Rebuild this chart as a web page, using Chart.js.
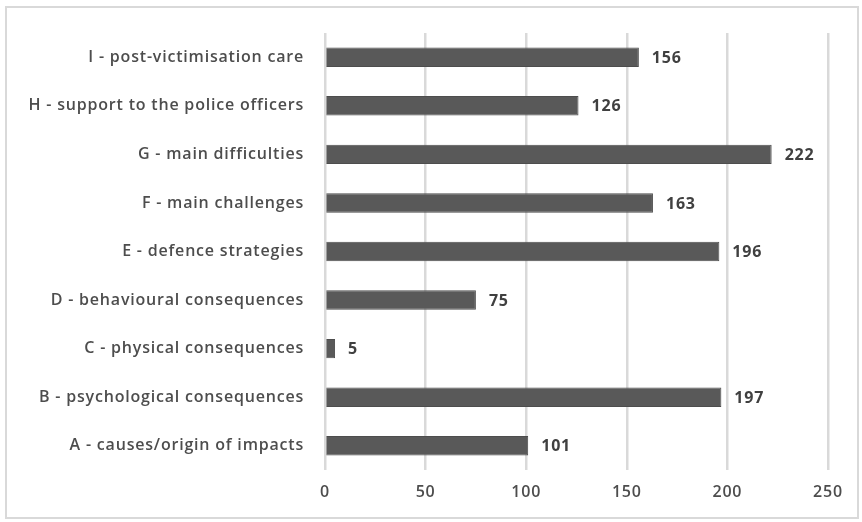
<!DOCTYPE html>
<html>
<head>
    <title>Coded segments by category</title>
    <script src="https://cdn.jsdelivr.net/npm/chart.js"></script>
    <style>
        body {
            margin: 0;
            background-color: #fff;
            font-family: "Open Sans", sans-serif;
        }
        #frame {
            position: absolute;
            left: 5px;
            top: 6px;
            width: 850px;
            height: 509px;
            border: 2px solid #d9d9d9; /* light grey box round the chart */
        }
        #wrap {
            position: absolute;
            left: 0;
            top: 0;
            width: 862px;
            height: 522px;
        }
    </style>
</head>
<body>
    <div id="frame"></div>
    <div id="wrap"><canvas id="plot"></canvas></div>

    <script>
        const categories = [
            'I - post-victimisation care',
            'H - support to the police officers',
            'G - main difficulties',
            'F - main challenges',
            'E - defence strategies',
            'D - behavioural consequences',
            'C - physical consequences',
            'B - psychological consequences',
            'A - causes/origin of impacts'
        ];
        const counts = [156, 126, 222, 163, 196, 75, 5, 197, 101];
        const xTicks = [0, 50, 100, 150, 200, 250];

        // slightly looser text all over the chart
        const spacing = {
            id: 'spacing',
            beforeDraw(chart) {
                chart.ctx.letterSpacing = '0.8px';
            }
        };

        // writes the count just past the end of each bar
        const valueLabels = {
            id: 'valueLabels',
            afterDatasetsDraw(chart) {
                const ctx = chart.ctx;
                const meta = chart.getDatasetMeta(0);
                ctx.save();
                ctx.letterSpacing = '0.8px';
                ctx.font = 'bold 16px "Open Sans", sans-serif';
                ctx.fillStyle = '#404040';
                ctx.textAlign = 'left';
                ctx.textBaseline = 'middle';
                meta.data.forEach((bar, i) => {
                    ctx.fillText(counts[i], bar.x + 13, bar.y + 1);
                });
                ctx.restore();
            }
        };

        const ctx = document.getElementById('plot').getContext('2d');
        new Chart(ctx, {
            type: 'bar',
            data: {
                labels: categories,
                datasets: [{
                    data: counts,
                    backgroundColor: '#595959',
                    borderColor: '#4d4d4d',
                    borderWidth: 1,
                    barPercentage: 0.5,
                    categoryPercentage: 0.8
                }]
            },
            options: {
                indexAxis: 'y',
                responsive: true,
                maintainAspectRatio: false,
                animation: false,
                layout: {
                    padding: { top: 33, right: 34, left: 10, bottom: 0 }
                },
                scales: {
                    x: {
                        min: 0,
                        max: 250,
                        afterBuildTicks(axis) {
                            axis.ticks = xTicks.map(v => ({ value: v }));
                        },
                        afterFit(axis) {
                            axis.height = 52;
                        },
                        border: { display: false },
                        grid: {
                            color: '#d9d9d9',
                            lineWidth: 2.5,
                            drawTicks: false
                        },
                        ticks: {
                            color: '#4d4d4d',
                            padding: 13,
                            font: { size: 16, weight: '600', family: '"Open Sans", sans-serif' }
                        }
                    },
                    y: {
                        afterFit(axis) {
                            axis.width = 315;
                        },
                        border: { display: false },
                        grid: { display: false },
                        ticks: {
                            color: '#4d4d4d',
                            padding: 13,
                            font: { size: 16, weight: '600', family: '"Open Sans", sans-serif' }
                        }
                    }
                },
                plugins: {
                    legend: { display: false },
                    tooltip: { enabled: false }
                }
            },
            plugins: [spacing, valueLabels]
        });
    </script>
</body>
</html>
